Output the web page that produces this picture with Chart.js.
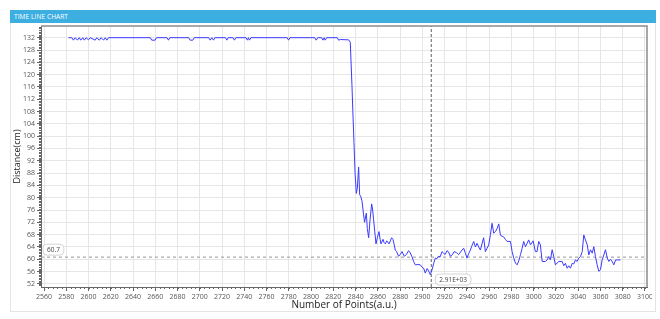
<!DOCTYPE html>
<html>
<head>
<meta charset="utf-8">
<script src="https://cdn.jsdelivr.net/npm/chart.js@4.4.0/dist/chart.umd.min.js"></script>
<style>
  body { margin: 0; background: #fff; font-family: "Open Sans", "Noto Sans", sans-serif; }
  #panel { position: absolute; left: 10px; top: 10px; width: 644px; height: 300px; border: 1px solid #e4e4e4; background: #fff; }
  #header { position: absolute; left: 10px; top: 10px; width: 646px; height: 13px; background: #3daee0; color: #fff;
            font-size: 6.5px; line-height: 13px; padding-left: 4px; box-sizing: border-box; letter-spacing: 0.1px; z-index: 2; }
  #wrap { position: absolute; left: 0; top: 0; width: 652px; height: 319px; overflow: hidden; z-index: 1; }
</style>
</head>
<body>
<div id="panel"></div>
<div id="header">TIME LINE CHART</div>
<div id="wrap"><canvas id="chart" width="652" height="319"></canvas></div>
<script>
// Data
const pointsX = [
  2582, 2585, 2586.4, 2588, 2590, 2591.7, 2593, 2594.8, 2596.3, 2597.8, 2600, 2601.5,
  2606, 2607.4, 2609.7, 2611.3, 2613.5, 2615, 2616.5, 2618, 2655.5, 2656.8, 2659.8, 2661,
  2670.5, 2671.8, 2673, 2690, 2691.3, 2693.7, 2695, 2708, 2709.3, 2710.8, 2712.3, 2713.5,
  2723, 2724.3, 2725.5, 2729.8, 2731.1, 2732.3, 2741.5, 2742.8, 2743.7, 2744.6, 2746,
  2778.5, 2779.7, 2781, 2803.3, 2804.6, 2806, 2809.4, 2810.6, 2811.7, 2812.7, 2814,
  2823.5, 2824.7, 2826.2, 2833.7, 2835.2, 2836.7, 2837.5, 2838.5, 2839.5, 2840.6, 2841.5,
  2842.7, 2843.6, 2844.5, 2845.7, 2847, 2848, 2849.6, 2850.5, 2851.7, 2853, 2854.4, 2855.3,
  2856.1, 2857.2, 2858.3, 2859.5, 2861, 2862, 2862.8, 2864.6, 2865.5, 2866.7, 2868, 2870,
  2871.2, 2872.3, 2873.5, 2874.5, 2875.6, 2876.8, 2878.6, 2880, 2881.7, 2883.7, 2885.5,
  2887.6, 2888.5, 2890.7, 2892.1, 2893.6, 2896, 2898.1, 2899.6, 2901.1, 2902.6, 2904.2,
  2905.6, 2907.1, 2908.7, 2910, 2911.6, 2913, 2914.6, 2916, 2917.6, 2919, 2920.5, 2922.1,
  2923.5, 2925.1, 2927, 2928.5, 2930.5, 2932.5, 2935.6, 2937.1, 2938.6, 2940.1, 2941.5,
  2943.1, 2944.6, 2946.1, 2947.6, 2949.1, 2950.6, 2952.1, 2953.5, 2955, 2956.6, 2958,
  2959.6, 2961.1, 2962.6, 2964.1, 2965.6, 2967.1, 2968.6, 2970.1, 2971.6, 2973, 2974.5,
  2976.1, 2979.1, 2980.6, 2982, 2983.6, 2985.1, 2986.6, 2988.1, 2989.6, 2991, 2992.6,
  2994.1, 2995.5, 2997.1, 2999.5, 3001.5, 3003, 3004.5, 3006, 3007.6, 3010.5, 3012.1,
  3013.5, 3015, 3016.6, 3018, 3019.5, 3022.5, 3025.6, 3027, 3028.5, 3030.1, 3031.5, 3033,
  3034.6, 3036, 3037.5, 3039, 3040.5, 3042, 3043.6, 3045, 3046.5, 3048.1, 3049.5, 3051,
  3052.6, 3054, 3055.5, 3057, 3058.5, 3060, 3061.5, 3063, 3064.5, 3066.1, 3067.5, 3069,
  3070.5, 3072, 3073.6, 3075.1, 3078
];
const distance = [
  132, 132, 131.2, 132, 131.2, 132, 131.2, 132, 131.2, 132, 131.3, 132,
  131.2, 132, 131.2, 132, 131.2, 132, 131.2, 132, 132, 131.2, 131.2, 132,
  132, 131.2, 132, 132, 131.2, 131.2, 132, 132, 131.2, 132, 131.2, 132,
  132, 131.2, 132, 132, 131.2, 132, 132, 131.2, 132, 131.2, 132,
  132, 131.2, 132, 132, 131.2, 132, 132, 131.2, 132, 131.2, 132,
  132, 131.2, 131.4, 131.3, 130.5, 116.5, 108, 98, 88, 81.4, 83,
  90, 81, 80.5, 79, 75, 72, 75, 70, 67, 73, 78, 76,
  73, 69, 65, 67, 69, 66.5, 65, 66.5, 65.5, 65, 66, 65,
  66, 67, 66.5, 65, 63, 62.5, 61, 61.5, 62.5, 61, 61.5,
  62.8, 62.5, 60.8, 59.3, 58.2, 58.3, 58.2, 57.5, 57.1, 55.5, 57,
  56.2, 55, 56.6, 58.5, 60.4, 60.2, 61, 60.8, 62.5, 62, 61.6, 62.8,
  62.4, 61, 61.5, 62.5, 62.2, 61.5, 63, 63.6, 62, 60.4, 61.8,
  63, 64.5, 65.8, 64, 65.2, 64, 63, 65, 67, 62.5, 63.5,
  64.7, 68, 71.7, 68.5, 69, 70, 71.5, 67.8, 67.5, 67.3, 66.5,
  65.8, 65.8, 62.5, 60.5, 58.8, 58.2, 59.5, 61.5, 63.6, 65.8, 64.1,
  65.2, 66.3, 64.7, 66, 62.5, 62.5, 65.8, 64.7, 59.3, 59.3, 59.8,
  60.9, 59.8, 63.1, 60.9, 58.2, 59.3, 59.3, 57.9, 58.7, 57.1, 57.9, 57.1,
  58.7, 58.5, 59.8, 59.3, 60.4, 60.9, 62.5, 67.9, 66.3, 64.7, 61.4, 63.1,
  62, 64.1, 60.9, 58.2, 56.1, 56.6, 59.8, 61.4, 63.1, 60.4, 59.3, 60,
  59.3, 58.2, 59.8, 59.8, 59.8
];
const xTicks = [2560, 2580, 2600, 2620, 2640, 2660, 2680, 2700, 2720, 2740, 2760, 2780, 2800,
  2820, 2840, 2860, 2880, 2900, 2920, 2940, 2960, 2980, 3000, 3020, 3040, 3060, 3080, 3100];
const yTicks = [52, 56, 60, 64, 68, 72, 76, 80, 84, 88, 92, 96, 100, 104, 108, 112, 116, 120,
  124, 128, 132, 136];
const cursorY = 60.7;      // horizontal marker
const cursorX = 2908;      // vertical marker, shown as 2.91E+03
const xMin = 2557.3, xMax = 3101.8;
const yMin = 51.0, yMax = 135.8;

const tickFont = { family: '"Open Sans", "Noto Sans", sans-serif', size: 7 };

// Helper: rounded label box
const drawBox = (ctx, text, x, y) => {
  ctx.save();
  ctx.font = '6.5px "Open Sans", "Noto Sans", sans-serif';
  const w = ctx.measureText(text).width + 8;
  const h = 11;
  ctx.beginPath();
  ctx.roundRect(x, y, w, h, 4);
  ctx.fillStyle = '#fff';
  ctx.fill();
  ctx.strokeStyle = '#d4d4d4';
  ctx.lineWidth = 1;
  ctx.stroke();
  ctx.fillStyle = '#444';
  ctx.textBaseline = 'middle';
  ctx.fillText(text, x + 4, y + h / 2 + 0.5);
  ctx.restore();
};

// Minor ticks, frame and marker labels
const extras = {
  id: 'extras',
  afterDraw(chart) {
    const { ctx, chartArea: a, scales: { x, y } } = chart;
    ctx.save();
    ctx.strokeStyle = '#666';
    ctx.lineWidth = 1;
    ctx.beginPath();
    for (let v = 51.5; v <= yMax; v += 0.5) {
      const py = Math.round(y.getPixelForValue(v)) + 0.5;
      ctx.moveTo(a.left - 2, py);
      ctx.lineTo(a.left, py);
    }
    for (let v = 2560; v <= xMax; v += 4) {
      const px = Math.round(x.getPixelForValue(v)) + 0.5;
      ctx.moveTo(px, a.bottom);
      ctx.lineTo(px, a.bottom + 2);
    }
    ctx.stroke();
    // top and right frame
    ctx.strokeStyle = '#8c8c8c';
    ctx.lineWidth = 1.5;
    ctx.beginPath();
    ctx.moveTo(a.left, a.top);
    ctx.lineTo(a.right, a.top);
    ctx.lineTo(a.right, a.bottom);
    ctx.stroke();
    ctx.restore();

    drawBox(ctx, cursorY.toFixed(1), a.left + 2, y.getPixelForValue(cursorY) - 13);
    drawBox(ctx, (cursorX).toExponential(2).replace('e', 'E').replace('+', '+0'), x.getPixelForValue(cursorX) + 4, a.bottom - 13);
  },
};

const ctx = document.getElementById('chart').getContext('2d');

const myChart = new Chart(ctx, {
  type: 'line',
  data: {
    datasets: [
      {
        data: pointsX.map((v, i) => ({ x: v, y: distance[i] })),
        borderColor: 'rgb(58, 58, 255)',
        borderWidth: 1,
        pointRadius: 0,
        tension: 0,
      },
      {
        data: [{ x: xMin, y: cursorY }, { x: xMax, y: cursorY }],
        borderColor: '#a8a8a8',
        borderWidth: 1.2,
        borderDash: [3, 3],
        pointRadius: 0,
      },
      {
        data: [{ x: cursorX, y: yMin }, { x: cursorX, y: yMax }],
        borderColor: '#7a7a7a',
        borderWidth: 1.2,
        borderDash: [3, 2],
        pointRadius: 0,
      },
    ],
  },
  options: {
    responsive: false,
    animation: false,
    layout: { padding: { left: 0, top: 26, right: 5, bottom: 4 } },
    plugins: { legend: { display: false }, tooltip: { enabled: false } },
    scales: {
      x: {
        type: 'linear',
        min: xMin,
        max: xMax,
        afterBuildTicks: (s) => { s.ticks = xTicks.map((v) => ({ value: v })); },
        afterFit: (s) => { s.height = 28; s.paddingLeft = 0; s.paddingRight = 0; },
        ticks: { font: tickFont, color: '#555', padding: 2, maxRotation: 0, autoSkip: false, callback: (v) => String(v) },
        grid: { color: '#e6e6e6', tickLength: 4, tickColor: '#666' },
        border: { color: '#666' },
        title: {
          display: true,
          text: 'Number of Points(a.u.)',
          color: '#222',
          font: { family: '"Open Sans", "Noto Sans", sans-serif', size: 10 },
          padding: { top: 0, bottom: 4 },
        },
      },
      y: {
        min: yMin,
        max: yMax,
        afterBuildTicks: (s) => { s.ticks = yTicks.filter((v) => v <= yMax).map((v) => ({ value: v })); },
        afterFit: (s) => { s.width = 41; s.paddingTop = 0; s.paddingBottom = 0; },
        ticks: { font: tickFont, color: '#555', padding: 2, autoSkip: false, callback: (v) => String(v) },
        grid: { color: '#e6e6e6', tickLength: 4, tickColor: '#666' },
        border: { color: '#666' },
        title: {
          display: true,
          text: 'Distance(cm)',
          color: '#222',
          font: { family: '"Open Sans", "Noto Sans", sans-serif', size: 9 },
          padding: { top: 12, bottom: 0 },
        },
      },
    },
  },
  plugins: [extras],
});
</script>
</body>
</html>
